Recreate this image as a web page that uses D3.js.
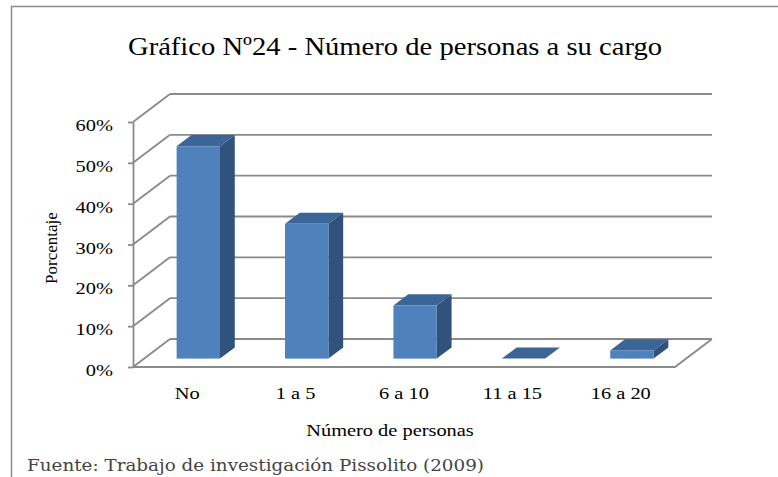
<!DOCTYPE html>
<html>
<head>
<meta charset="utf-8">
<script src="https://cdn.jsdelivr.net/npm/d3@7"></script>
<style>
  body { margin: 0; background: #fff; }
  svg text { font-family: "Liberation Serif", "Times New Roman", serif; fill: #000; }
</style>
</head>
<body>
<div id="chart"></div>
<script>
// data
const categories = ['No', '1 a 5', '6 a 10', '11 a 15', '16 a 20'];
const values = [0.52, 0.33, 0.13, 0, 0.02];
const yTicks = [0, 0.1, 0.2, 0.3, 0.4, 0.5, 0.6];

const chartTitle = 'Gráfico Nº24 - Número de personas a su cargo';
const xTitle = 'Número de personas';
const yTitle = 'Porcentaje';
const source = 'Fuente: Trabajo de investigación Pissolito (2009)';

function renderBar3D(containerId) {
  const width = 778, height = 477;
  const gridColor = '#8a8a8a';
  const depth = { dx: 37, dy: -28 };   // floor depth vector (front -> back wall)
  const barDepth = [0.3, 0.7];         // bar position within the depth
  const stretch = 1.2;                 // text in the picture is widened

  const svg = d3.select('#' + containerId)
    .append('svg')
    .attr('width', width)
    .attr('height', height);

  // outer chart border (runs off right/bottom edges)
  svg.append('rect')
    .attr('x', 11.5).attr('y', 6.5)
    .attr('width', 820).attr('height', 520)
    .attr('fill', 'none')
    .attr('stroke', '#8c8c8c')
    .attr('stroke-width', 1.5);

  const x = d3.scaleBand().domain(categories).range([133, 675]);
  const y = d3.scaleLinear().domain([0, 0.6]).range([367, 122]);
  const x0 = x.range()[0], x1 = x.range()[1];

  // back wall gridlines + diagonals
  const grid = svg.append('g')
    .attr('stroke', gridColor)
    .attr('stroke-width', 1.8)
    .attr('fill', 'none');

  grid.selectAll('.diag')
    .data(yTicks)
    .enter().append('line')
    .attr('x1', x0).attr('y1', d => y(d))
    .attr('x2', x0 + depth.dx).attr('y2', d => y(d) + depth.dy);

  grid.selectAll('.hline')
    .data(yTicks)
    .enter().append('line')
    .attr('x1', x0 + depth.dx).attr('y1', d => y(d) + depth.dy)
    .attr('x2', x1 + depth.dx).attr('y2', d => y(d) + depth.dy);

  // floor front edge + right edge
  grid.append('path')
    .attr('d', `M${x0},${y(0)}H${x1}L${x1 + depth.dx},${y(0) + depth.dy}`);

  // bars
  const bw = x.bandwidth() * 0.4;
  const ddx = (barDepth[1] - barDepth[0]) * depth.dx;
  const ddy = (barDepth[1] - barDepth[0]) * depth.dy;

  const bars = svg.selectAll('.bar')
    .data(categories.map((c, i) => ({ c, v: values[i] })))
    .enter().append('g')
    .attr('class', 'bar');

  const geom = d => {
    const cx = x(d.c) + x.bandwidth() / 2 + barDepth[0] * depth.dx;
    const xl = cx - bw / 2, xr = cx + bw / 2;
    const bottom = y(0) + barDepth[0] * depth.dy;
    const top = y(d.v) + barDepth[0] * depth.dy;
    return { xl, xr, top, bottom };
  };

  bars.append('path')
    .attr('fill', '#30527b')
    .attr('d', d => {
      const g = geom(d);
      return `M${g.xr},${g.top}L${g.xr + ddx},${g.top + ddy}L${g.xr + ddx},${g.bottom + ddy}L${g.xr},${g.bottom}Z`;
    });

  bars.append('path')
    .attr('fill', '#3b6497')
    .attr('d', d => {
      const g = geom(d);
      return `M${g.xl},${g.top}L${g.xl + ddx},${g.top + ddy}L${g.xr + ddx},${g.top + ddy}L${g.xr},${g.top}Z`;
    });

  bars.append('rect')
    .attr('fill', '#4f81bd')
    .attr('x', d => geom(d).xl)
    .attr('y', d => geom(d).top)
    .attr('width', bw)
    .attr('height', d => geom(d).bottom - geom(d).top);

  // front y axis
  const yAxis = d3.axisLeft(y)
    .tickValues(yTicks)
    .tickFormat(d3.format('.0%'))
    .tickSize(5)
    .tickSizeOuter(0)
    .tickPadding(15);

  const ga = svg.append('g')
    .attr('transform', `translate(${x0},0)`)
    .call(yAxis);
  ga.select('.domain').attr('stroke', gridColor).attr('stroke-width', 1.8);
  ga.selectAll('.tick line').attr('stroke', gridColor).attr('stroke-width', 1.8);
  ga.selectAll('.tick text')
    .attr('font-size', 17)
    .attr('x', -20 / stretch)
    .attr('dy', '0.5em')
    .attr('transform', `scale(${stretch},1)`);

  // x category labels
  svg.selectAll('.xlabel')
    .data(categories)
    .enter().append('text')
    .attr('class', 'xlabel')
    .attr('text-anchor', 'middle')
    .attr('font-size', 17)
    .attr('transform', d => `translate(${x(d) + x.bandwidth() / 2},399) scale(${stretch},1)`)
    .text(d => d);

  // titles
  svg.append('text')
    .attr('text-anchor', 'middle')
    .attr('font-size', 26)
    .attr('transform', 'translate(395,55) scale(1.1,1)')
    .text(chartTitle);

  svg.append('text')
    .attr('text-anchor', 'middle')
    .attr('font-size', 17)
    .attr('transform', `translate(390,436) scale(${stretch},1)`)
    .text(xTitle);

  svg.append('text')
    .attr('text-anchor', 'middle')
    .attr('font-size', 17)
    .attr('transform', 'translate(57,248) rotate(-90)')
    .text(yTitle);

  // source note (thin slab-serif look), kept just inside the bottom edge
  svg.append('text')
    .attr('x', 27).attr('y', 471)
    .attr('font-size', 17)
    .attr('textLength', 457)
    .attr('lengthAdjust', 'spacingAndGlyphs')
    .style('font-family', '"DejaVu Serif", serif')
    .style('fill', '#444')
    .text(source);
}

renderBar3D('chart');
</script>
</body>
</html>
